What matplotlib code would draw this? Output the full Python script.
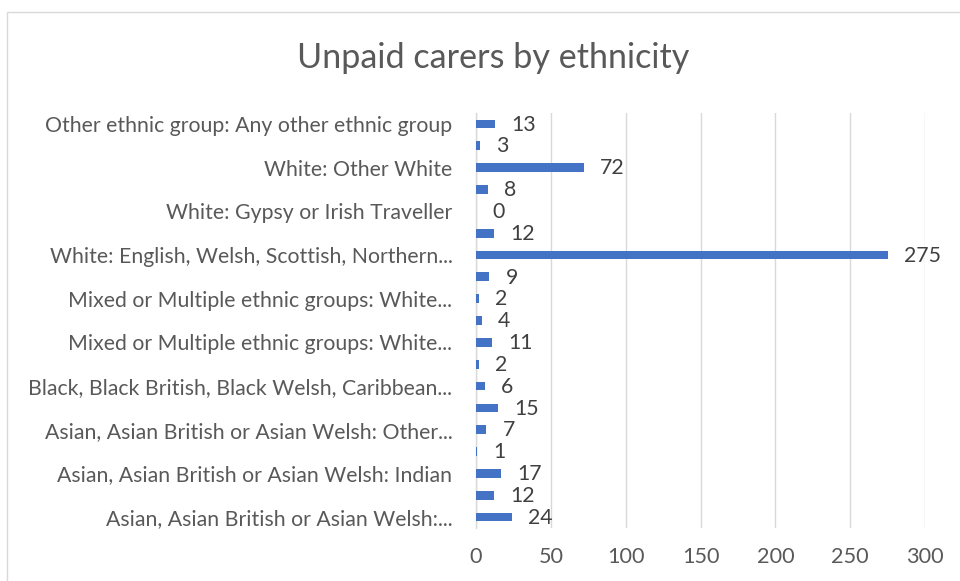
import matplotlib
matplotlib.use("Agg")
import matplotlib.pyplot as plt
from matplotlib.patches import Rectangle

# Categories from bottom to top; only every other label fits on the axis
categories = [
    "Asian, Asian British or Asian Welsh:...",
    "Asian, Asian British or Asian Welsh: Chinese",
    "Asian, Asian British or Asian Welsh: Indian",
    "Asian, Asian British or Asian Welsh: Pakistani",
    "Asian, Asian British or Asian Welsh: Other...",
    "Black, Black British, Black Welsh, Caribbean or African: African",
    "Black, Black British, Black Welsh, Caribbean...",
    "Black, Black British, Black Welsh, Caribbean or African: Other Black",
    "Mixed or Multiple ethnic groups: White...",
    "Mixed or Multiple ethnic groups: White and Black African",
    "Mixed or Multiple ethnic groups: White...",
    "Mixed or Multiple ethnic groups: Other Mixed",
    "White: English, Welsh, Scottish, Northern...",
    "White: Irish",
    "White: Gypsy or Irish Traveller",
    "White: Roma",
    "White: Other White",
    "Other ethnic group: Arab",
    "Other ethnic group: Any other ethnic group",
]
carers = [24, 12, 17, 1, 7, 15, 6, 2, 11, 4, 2, 9, 275, 12, 0, 8, 72, 3, 13]
x_ticks = [0, 50, 100, 150, 200, 250, 300]

TEXT = "#595959"
GRID = "#D9D9D9"
BAR = "#4472C4"
FONT = ["Lato", "DejaVu Sans"]

plt.rcParams["font.family"] = FONT

fig = plt.figure(figsize=(9.6, 5.81), dpi=100)
fig.patches.append(Rectangle((7 / 960, -0.05), 1.1, 1 - 12 / 581 + 0.05,
                             transform=fig.transFigure, fill=False,
                             edgecolor=GRID, linewidth=1.0))

ax = fig.add_axes([476 / 960, 1 - 528 / 581, 449 / 960, 415 / 581])
pos = list(range(len(categories)))
ax.barh(pos, carers, height=0.4, color=BAR, zorder=3)

for y, v in zip(pos, carers):
    ax.annotate(str(v), (v, y), xytext=(11.5, -0.5), textcoords="offset points",
                ha="left", va="center", fontsize=15.3, color="#404040")

ax.set_xlim(0, 300)
ax.set_ylim(-0.5, len(categories) - 0.5)
ax.set_xticks(x_ticks)
ax.set_xticklabels([str(t) for t in x_ticks])
ax.set_yticks(pos[::2])
ax.set_yticklabels(categories[::2])
ax.tick_params(axis="y", length=0, pad=17, labelsize=15.3, labelcolor=TEXT)
ax.tick_params(axis="x", length=0, pad=14, labelsize=15.6, labelcolor=TEXT)
ax.grid(axis="x", color=GRID, linewidth=1.0, zorder=0)
for side in ["top", "right", "bottom"]:
    ax.spines[side].set_visible(False)
ax.spines["left"].set_color(GRID)
ax.spines["left"].set_linewidth(1.0)
ax.set_axisbelow(True)

fig.text(493 / 960, 1 - 58 / 581, "Unpaid carers by ethnicity", ha="center",
         va="center", fontsize=24.6, color=TEXT)

fig.savefig("out.png", dpi=100)
